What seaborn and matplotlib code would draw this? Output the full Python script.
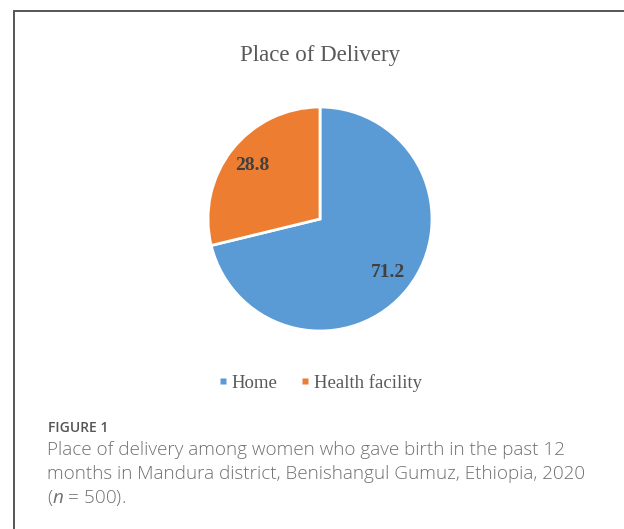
import matplotlib
matplotlib.use("Agg")
import numpy as np
import matplotlib.pyplot as plt
from matplotlib.lines import Line2D
import seaborn as sns

# data
places = ["Home", "Health facility"]
shares = [71.2, 28.8]
value_labels = ["71.2", "28.8"]
colors = ["#5B9BD5", "#ED7D31"]

title = "Place of Delivery"
fig_tag = "FIGURE 1"
caption = ["Place of delivery among women who gave birth in the past 12",
           "months in Mandura district, Benishangul Gumuz, Ethiopia, 2020",
           "($n$ = 500)."]

sns.set_theme(style="white")
plt.rcParams["font.family"] = ["Liberation Serif", "DejaVu Serif"]
plt.rcParams["mathtext.fontset"] = "custom"
plt.rcParams["mathtext.rm"] = "Open Sans"
plt.rcParams["mathtext.it"] = "Open Sans:italic"

W, H = 624, 529
fig = plt.figure(figsize=(W / 100, H / 100), dpi=100)
fig.patch.set_facecolor("white")

# pie: centre (320, 219) px, radius 112 px
cx, cy, r = 320, 219, 112
ax = fig.add_axes([(cx - r) / W, (H - cy - r) / H, 2 * r / W, 2 * r / H])
wedges, _ = ax.pie(shares, colors=colors, startangle=90, counterclock=False,
                   wedgeprops=dict(edgecolor="white", linewidth=2))
ax.set_xlim(-1, 1)
ax.set_ylim(-1, 1)
ax.set_aspect("equal")
ax.axis("off")

for w, txt in zip(wedges, value_labels):
    mid = np.deg2rad((w.theta1 + w.theta2) / 2)
    ax.text(0.77 * np.cos(mid), 0.77 * np.sin(mid), txt, ha="center", va="center",
            fontsize=14, fontweight="bold", color="#404040")

fig.text(320 / W, 1 - 56 / H, title, ha="center", va="center",
         fontsize=16.5, color="#595959")

handles = [Line2D([], [], marker="s", linestyle="none", markersize=4.5,
                  markerfacecolor=c, markeredgecolor="none") for c in colors]
fig.legend(handles, places, loc="center", bbox_to_anchor=(321 / W, 1 - 383 / H),
           ncol=2, frameon=False, fontsize=13.5, handlelength=0.35,
           handletextpad=0.3, columnspacing=1.3, labelcolor="#595959")

# outer frame (left and top edges)
fig.add_artist(Line2D([13.5 / W, 13.5 / W], [0, 1 - 10.5 / H], color="#555555", lw=1.4))
fig.add_artist(Line2D([13.5 / W, 1], [1 - 10.5 / H, 1 - 10.5 / H], color="#555555", lw=1.4))

# caption
sans = ["Open Sans", "DejaVu Sans"]
fig.text(48 / W, 1 - 432 / H, fig_tag, ha="left", va="baseline",
         fontsize=10, fontweight="semibold", color="#555555", family=sans)
for i, line in enumerate(caption):
    fig.text(47 / W, 1 - (455 + 24 * i) / H, line, ha="left", va="baseline",
             fontsize=13.6, fontweight="light", color="#707070", family=sans)

fig.savefig("out.png", dpi=100)
